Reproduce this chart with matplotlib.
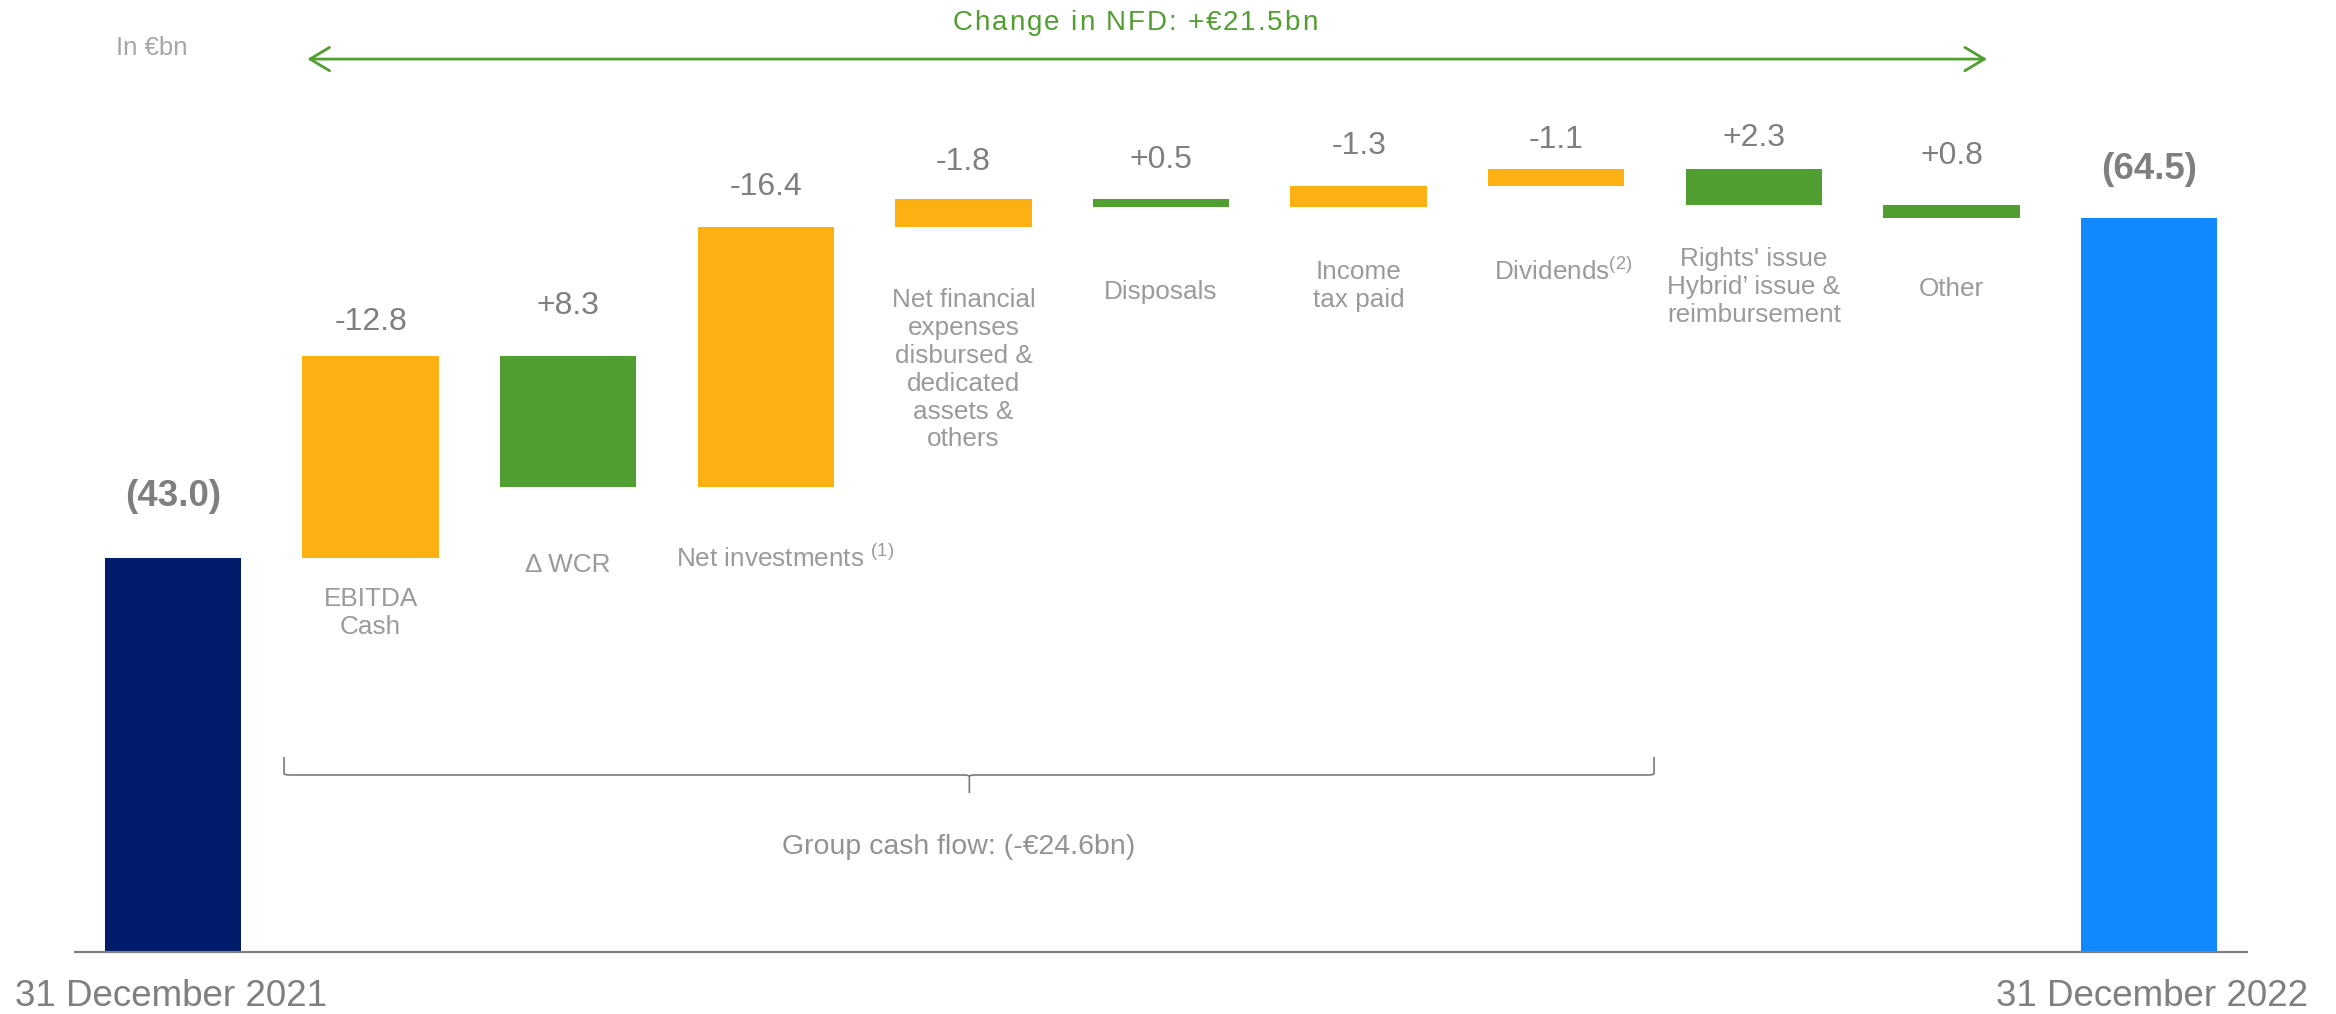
import matplotlib
matplotlib.use('Agg')
import matplotlib.pyplot as plt
from matplotlib.path import Path
from matplotlib.patches import PathPatch
from matplotlib.font_manager import FontProperties

plt.rcParams['font.family'] = ['Liberation Sans', 'DejaVu Sans']
plt.rcParams['mathtext.fontset'] = 'custom'
plt.rcParams['mathtext.rm'] = 'Liberation Sans'
plt.rcParams['mathtext.it'] = 'Liberation Sans:italic'
plt.rcParams['mathtext.bf'] = 'Liberation Sans:bold'

# data (in €bn)
total_labels = ['31 December 2021', '31 December 2022']
start_value = 43.0
end_value = 64.5
step_names = ['EBITDA\nCash', '\u0394 WCR', 'Net investments $^{(1)}$',
              'Net financial\nexpenses\ndisbursed &\ndedicated\nassets &\nothers',
              'Disposals', 'Income\ntax paid', 'Dividends$^{(2)}$',
              "Rights' issue\nHybrid\u2019 issue &\nreimbursement", 'Other']
step_values = [-12.8, 8.3, -16.4, -1.8, 0.5, -1.3, -1.1, 2.3, 0.8]
nfd_change = '+€21.5bn'
group_cash_flow = '(-€24.6bn)'

# layout / styles
y_floor = 18.1          # the picture cuts the axis here
bar_w = 0.69
c_orange = '#FDB012'
c_green = '#519E31'
c_start = '#001B69'
c_end = '#1089FF'
c_val = '#7f7f7f'
c_cat = '#9a9a9a'
value_gap = [62, 34, 50, 40, 37, 39, 40, 29, 31, 49, 48]   # px above bar top
cat_gap = [29, 66, 58, 61, 73, 53, 72, 42, 59]             # px below bar bottom
cat_dx = [0, 0, 19, 0, 0, 0, 7, 0, 0]                      # px sideways shift
px = 0.72  # px -> points at 100 dpi

fig = plt.figure(figsize=(23.36, 10.14), dpi=100)
ax = fig.add_axes([0, 0, 1, 1])
ax.set_xlim(-0.8755, 10.946)
ax.set_ylim(14.165, 78.285)
ax.axis('off')

n = len(step_values)
# opening and closing totals
ax.bar(0, start_value - y_floor, bottom=y_floor, width=bar_w, color=c_start)
ax.bar(n + 1, end_value - y_floor, bottom=y_floor, width=bar_w, color=c_end)
for i, v, g in [(0, start_value, value_gap[0]), (n + 1, end_value, value_gap[-1])]:
    ax.annotate('(%.1f)' % v, (i, v), xytext=(0, g * px), textcoords='offset points',
                ha='center', va='center', fontsize=26.5, fontweight='bold', color=c_val)

# waterfall steps (debt goes up when cash flow is negative)
level = start_value
for k, (name, d) in enumerate(zip(step_names, step_values)):
    i = k + 1
    new = level - d
    lo, hi = min(level, new), max(level, new)
    ax.bar(i, hi - lo, bottom=lo, width=bar_w, color=c_green if d > 0 else c_orange)
    ax.annotate('%+.1f' % d, (i, hi), xytext=(0, value_gap[i] * px),
                textcoords='offset points', ha='center', va='center',
                fontsize=23, color=c_val)
    ax.annotate(name, (i, lo), xytext=(cat_dx[k] * px, -cat_gap[k] * px),
                textcoords='offset points', ha='center', va='top',
                fontsize=18.8, color=c_cat, linespacing=1.2)
    level = new

# baseline
ax.plot([-0.5, n + 1.5], [y_floor, y_floor], color='#808080', lw=1.6,
        solid_capstyle='butt')

# date labels
ax.text(-0.80, 15.24, total_labels[0], ha='left', va='center', fontsize=26.5, color=c_val)
ax.text(10.805, 15.24, total_labels[1], ha='right', va='center', fontsize=26.5, color=c_val)

ax.text(-0.288, 75.25, 'In €bn', ha='left', va='center', fontsize=18.5, color='#a6a6a6')

# change in NFD arrow
ax.annotate('', xy=(9.18, 74.55), xytext=(0.68, 74.55),
            arrowprops=dict(arrowstyle='<->,head_length=0.5,head_width=0.3',
                            color=c_green, lw=2.0, mutation_scale=28,
                            shrinkA=0, shrinkB=0))

# letter-spaced title over the arrow
title = 'Change in NFD: ' + nfd_change
fp = FontProperties(family='Liberation Sans', size=20)
renderer = fig.canvas.get_renderer()


def text_w(s):
    return renderer.get_text_width_height_descent(s, fp, ismath=False)[0]


track = 1.9  # extra px between letters
bar_ref = text_w('|')
full_w = text_w(title) + track * (len(title) - 1)
for k, ch in enumerate(title):
    pos = (text_w(title[:k] + '|') - bar_ref if k else 0) + k * track - full_w / 2
    ax.annotate(ch, (4.868, 76.39), xytext=(pos * px, 0), textcoords='offset points',
                ha='left', va='baseline', fontproperties=fp, color=c_green)

# group cash flow bracket
bl, br, bm = 0.562, 7.495, 4.03
y_end, y_line, y_tip = 30.42, 29.28, 28.14
verts = [(bl, y_end), (bl, y_line + 0.1), (bl, y_line), (bl + 0.03, y_line),
         (bm - 0.03, y_line), (bm, y_line), (bm, y_line - 0.1), (bm, y_tip)]
codes = [Path.MOVETO, Path.LINETO, Path.CURVE3, Path.CURVE3,
         Path.LINETO, Path.CURVE3, Path.CURVE3, Path.LINETO]
ax.add_patch(PathPatch(Path(verts, codes), fill=False, ec='#7a7a7a', lw=1.2))
verts = [(br, y_end), (br, y_line + 0.1), (br, y_line), (br - 0.03, y_line),
         (bm + 0.03, y_line), (bm, y_line), (bm, y_line - 0.1)]
codes = [Path.MOVETO, Path.LINETO, Path.CURVE3, Path.CURVE3,
         Path.LINETO, Path.CURVE3, Path.CURVE3]
ax.add_patch(PathPatch(Path(verts, codes), fill=False, ec='#7a7a7a', lw=1.2))
ax.text(3.978, 24.72, 'Group cash flow: ' + group_cash_flow, ha='center', va='center',
        fontsize=20.5, color='#939393')

fig.savefig('out.png', dpi=100)
